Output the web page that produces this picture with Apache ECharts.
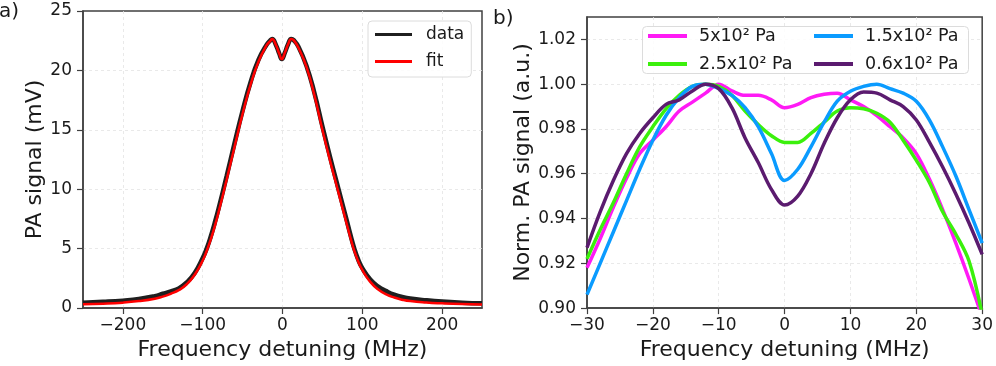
<!DOCTYPE html>
<html>
<head>
<meta charset="utf-8">
<script src="https://cdn.jsdelivr.net/npm/echarts@6/dist/echarts.min.js"></script>
<style>
  html, body { margin: 0; padding: 0; background: #fff; }
  #app { width: 996px; height: 366px; }
</style>
</head>
<body>
<div id="app"></div>
<script>
// panel a) - detuning scan, data + fit
var freqA = [-250, -225, -200, -180, -160, -150, -140, -130, -120, -110, -100, -95, -90, -85, -80,
  -70, -60, -50, -40, -30, -20, -15, -13, -8, -4, -1, 3, 7, 11, 14, 20, 30, 40, 50, 60,
  70, 80, 85, 90, 95, 100, 110, 120, 130, 140, 150, 160, 180, 200, 225, 250];
var dataA = [0.45, 0.52, 0.62, 0.75, 1.0, 1.2, 1.4, 1.65, 2.15, 2.95, 4.2, 5.0, 6.0, 7.15, 8.4,
  11.1, 13.9, 16.6, 19.0, 20.9, 22.15, 22.55, 22.65, 22.1, 21.4, 20.95, 21.5, 22.2, 22.65, 22.55,
  22.0, 20.4, 18.1, 15.3, 12.6, 10.05, 7.5, 6.2, 5.0, 4.05, 3.35, 2.4, 1.8, 1.42, 1.12,
  0.93, 0.8, 0.65, 0.54, 0.45, 0.39];
var fitA = [0.31, 0.36, 0.45, 0.58, 0.78, 0.96, 1.2, 1.5, 2.0, 2.8, 4.0, 4.8, 5.75, 6.85, 8.1,
  10.8, 13.6, 16.35, 18.8, 20.75, 22.1, 22.5, 22.65, 22.1, 21.4, 20.95, 21.5, 22.2, 22.65, 22.55,
  21.9, 20.3, 17.9, 15.0, 12.3, 9.75, 7.2, 5.95, 4.8, 3.9, 3.2, 2.2, 1.55, 1.14, 0.88,
  0.7, 0.58, 0.46, 0.39, 0.33, 0.3];

// panel b) - normalised signal at different pressures
var freqB = [-30, -28, -26, -24, -22, -20, -18, -16, -14, -12, -10, -8, -6, -4, -2, 0,
  2, 4, 6, 8, 10, 12, 14, 16, 18, 20, 22, 24, 26, 28, 30];
var p500 = [0.918, 0.931, 0.945, 0.958, 0.969, 0.975, 0.981, 0.988, 0.992, 0.996, 1.000, 0.997,
  0.995, 0.995, 0.993, 0.9895, 0.991, 0.994, 0.9955, 0.996, 0.993, 0.990, 0.986, 0.981, 0.976,
  0.969, 0.9575, 0.944, 0.929, 0.913, 0.896];
var p250 = [0.922, 0.935, 0.947, 0.960, 0.972, 0.981, 0.989, 0.995, 0.999, 1.000, 0.999, 0.995,
  0.988, 0.982, 0.977, 0.974, 0.974, 0.978, 0.983, 0.988, 0.9895, 0.989, 0.987, 0.983, 0.975,
  0.966, 0.956, 0.943, 0.933, 0.921, 0.897];
var p150 = [0.906, 0.920, 0.934, 0.948, 0.962, 0.975, 0.986, 0.994, 0.999, 1.000, 0.998, 0.995,
  0.9895, 0.981, 0.969, 0.957, 0.962, 0.972, 0.983, 0.9924, 0.9968, 0.999, 1.000, 0.998, 0.996,
  0.9924, 0.984, 0.972, 0.959, 0.944, 0.929];
var p60 = [0.927, 0.943, 0.957, 0.969, 0.978, 0.985, 0.991, 0.993, 0.997, 1.000, 0.998, 0.9895,
  0.976, 0.965, 0.953, 0.946, 0.950, 0.960, 0.9735, 0.985, 0.993, 0.9965, 0.996, 0.993, 0.990,
  0.984, 0.974, 0.963, 0.951, 0.938, 0.924];

var namesB = ['5x10\u00b2 Pa', '2.5x10\u00b2 Pa', '1.5x10\u00b2 Pa', '0.6x10\u00b2 Pa'];

function pairs(xs, ys) {
  return xs.map(function (x, i) { return [x, ys[i]]; });
}

var font = 'DejaVu Sans';
var ink = '#1a1a1a';
var frame = '#404040';
var minus = function (v) { return String(v).replace('-', '\u2212'); };
var grid = { show: true, showMinLine: false, showMaxLine: false,
  lineStyle: { color: '#e4e4e4', type: [3, 3], width: 0.8 } };

function xAx(idx, min, max, interval) {
  return {
    type: 'value', gridIndex: idx, min: min, max: max, interval: interval,
    name: 'Frequency detuning (MHz)', nameLocation: 'middle', nameGap: 28,
    nameTextStyle: { fontFamily: font, fontSize: 22, color: ink },
    axisLine: { onZero: false, lineStyle: { color: frame, width: 1.5 } },
    axisTick: { show: true, length: 6, lineStyle: { color: frame, width: 1.2 } },
    axisLabel: { fontFamily: font, fontSize: 17, color: ink, margin: 9, formatter: minus,
      showMinLabel: idx === 1, showMaxLabel: idx === 1 },
    splitLine: grid
  };
}

function yAx(idx, name, gap, opts) {
  var ax = {
    type: 'value', gridIndex: idx,
    name: name, nameLocation: 'middle', nameGap: gap, nameRotate: 90,
    nameTextStyle: { fontFamily: font, fontSize: 22, color: ink },
    axisLine: { show: true, onZero: false, lineStyle: { color: frame, width: 1.5 } },
    axisTick: { show: true, length: 6, lineStyle: { color: frame, width: 1.2 } },
    axisLabel: { fontFamily: font, fontSize: 17, color: ink, margin: 11 },
    splitLine: grid
  };
  return Object.assign(ax, opts);
}

var lineColors = ['#ff1af5', '#3bf00c', '#0a9bff', '#5b1b6f'];
var seriesB = [p500, p250, p150, p60].map(function (vals, i) {
  return {
    name: namesB[i], type: 'line', xAxisIndex: 1, yAxisIndex: 1,
    data: pairs(freqB, vals), smooth: 0.35, symbol: 'none',
    lineStyle: { width: 3.5, color: lineColors[i] }, itemStyle: { color: lineColors[i] }
  };
});

var myChart = echarts.init(document.getElementById('app'));

var option = {
  animation: false,
  backgroundColor: '#fff',
  textStyle: { fontFamily: font },
  grid: [
    { left: 83, top: 11, width: 399, height: 297, show: true, borderColor: frame, borderWidth: 1.5 },
    { left: 587, top: 17, width: 399, height: 297, show: true, borderColor: frame, borderWidth: 1.5 }
  ],
  xAxis: [
    xAx(0, -250, 250),
    xAx(1, -30, 30, 10)
  ],
  yAxis: [
    yAx(0, 'PA signal (mV)', 30, { min: 0, max: 25, interval: 5 }),
    yAx(1, 'Norm. PA signal (a.u.)', 41, { min: 0.9, max: 1.03, interval: 0.02 })
  ],
  legend: [
    {
      data: ['data', 'fit'], orient: 'vertical', left: 368, top: 21,
      icon: 'rect', itemWidth: 37, itemHeight: 3, itemGap: 10,
      padding: [5, 7, 7, 7], backgroundColor: 'rgba(255,255,255,0.85)',
      borderColor: '#dcdcdc', borderWidth: 1, borderRadius: 4,
      textStyle: { fontFamily: font, fontSize: 17, color: ink, padding: [0, 0, 0, 9] }
    },
    {
      data: [namesB[0], namesB[1]], orient: 'vertical', left: 648, top: 27,
      icon: 'rect', itemWidth: 39, itemHeight: 4, itemGap: 10, padding: 0,
      textStyle: { fontFamily: font, fontSize: 17.5, color: ink, padding: [0, 0, 0, 7] }
    },
    {
      data: [namesB[2], namesB[3]], orient: 'vertical', left: 814, top: 27,
      icon: 'rect', itemWidth: 39, itemHeight: 4, itemGap: 10, padding: 0,
      textStyle: { fontFamily: font, fontSize: 17.5, color: ink, padding: [0, 0, 0, 7] }
    }
  ],
  graphic: [
    { type: 'text', left: -1, top: 2, style: { text: 'a)', font: '20px "DejaVu Sans"', fill: ink } },
    { type: 'text', left: 493, top: 9, style: { text: 'b)', font: '20px "DejaVu Sans"', fill: ink } },
    { type: 'rect', left: 642, top: 26, z: 2,
      shape: { width: 326, height: 47, r: 4 },
      style: { fill: 'rgba(255,255,255,0.85)', stroke: '#dcdcdc', lineWidth: 1 } }
  ],
  series: [
    {
      name: 'data', type: 'line', xAxisIndex: 0, yAxisIndex: 0,
      data: pairs(freqA, dataA), smooth: 0.5, symbol: 'none',
      lineStyle: { width: 4.5, color: '#1f1f1f' }, itemStyle: { color: '#1f1f1f' }
    },
    {
      name: 'fit', type: 'line', xAxisIndex: 0, yAxisIndex: 0,
      data: pairs(freqA, fitA), smooth: 0.5, symbol: 'none',
      lineStyle: { width: 2.5, color: '#ff0000' }, itemStyle: { color: '#ff0000' }
    }
  ].concat(seriesB)
};

option.yAxis[1].axisLabel.formatter = function (v) { return v.toFixed(2); };
option.yAxis[1].axisLabel.showMaxLabel = false;

myChart.setOption(option);
</script>
</body>
</html>
